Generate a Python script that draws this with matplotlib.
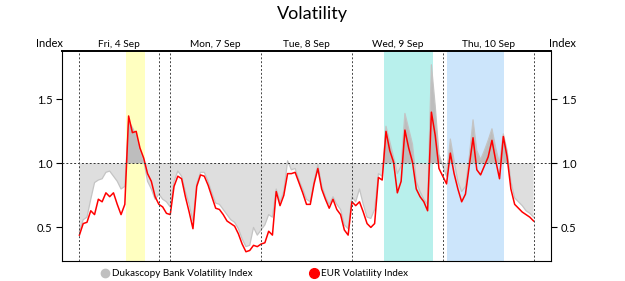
import numpy as np
import matplotlib.pyplot as plt
from matplotlib.lines import Line2D

# horas desde vie 00:00 (fin de semana recortado: vie 21:00 -> dom 21:00)
hours = np.arange(121)

dukascopy = [0.47, 0.56, 0.58, 0.72, 0.85, 0.87, 0.88, 0.93, 0.94, 0.90,
             0.86, 0.80, 0.82, 1.33, 1.28, 1.22, 1.10, 1.02, 0.86, 0.80,
             0.72, 0.76, 0.72, 0.70, 0.66, 0.86, 0.94, 0.90, 0.78, 0.68,
             0.55, 0.84, 0.93, 0.93, 0.86, 0.77, 0.69, 0.68, 0.64, 0.60,
             0.56, 0.54, 0.49, 0.41, 0.35, 0.36, 0.50, 0.44, 0.48, 0.52,
             0.60, 0.58, 0.80, 0.70, 0.78, 1.02, 0.95, 0.96, 0.87, 0.80,
             0.72, 0.70, 0.86, 0.99, 0.83, 0.74, 0.68, 0.74, 0.68, 0.64,
             0.52, 0.49, 0.74, 0.70, 0.80, 0.68, 0.58, 0.57, 0.64, 0.92,
             0.90, 1.29, 1.17, 1.05, 0.92, 0.98, 1.39, 1.27, 1.15, 0.86,
             0.78, 0.72, 0.68, 1.77, 1.45, 1.07, 0.98, 0.90, 1.19, 1.02,
             0.86, 0.78, 0.82, 1.05, 1.34, 1.10, 1.03, 1.10, 1.18, 1.27,
             1.12, 1.00, 1.23, 1.10, 0.86, 0.73, 0.70, 0.67, 0.63, 0.61,
             0.58]

eur = [0.44, 0.53, 0.54, 0.63, 0.60, 0.72, 0.70, 0.77, 0.74, 0.77,
       0.68, 0.60, 0.68, 1.37, 1.24, 1.25, 1.12, 1.04, 0.92, 0.86,
       0.74, 0.68, 0.66, 0.61, 0.60, 0.82, 0.90, 0.88, 0.74, 0.62,
       0.49, 0.82, 0.91, 0.90, 0.83, 0.74, 0.65, 0.64, 0.60, 0.55,
       0.53, 0.51, 0.45, 0.37, 0.31, 0.32, 0.36, 0.35, 0.37, 0.38,
       0.47, 0.44, 0.78, 0.67, 0.75, 0.92, 0.92, 0.93, 0.85, 0.77,
       0.68, 0.68, 0.84, 0.96, 0.80, 0.72, 0.65, 0.72, 0.64, 0.60,
       0.48, 0.44, 0.70, 0.67, 0.70, 0.62, 0.53, 0.50, 0.53, 0.89,
       0.87, 1.25, 1.10, 1.01, 0.77, 0.86, 1.26, 1.12, 1.01, 0.80,
       0.74, 0.70, 0.63, 1.40, 1.22, 0.96, 0.90, 0.84, 1.08, 0.92,
       0.80, 0.70, 0.76, 0.98, 1.20, 0.95, 0.91, 0.98, 1.05, 1.18,
       1.02, 0.88, 1.21, 1.05, 0.80, 0.68, 0.65, 0.62, 0.60, 0.58,
       0.55]

day_labels = ['Fri, 4 Sep', 'Mon, 7 Sep', 'Tue, 8 Sep', 'Wed, 9 Sep', 'Thu, 10 Sep']
day_bounds = [(0, 21), (24, 48), (48, 72), (72, 96), (96, 120)]
separators = [0, 21, 24, 48, 72, 96, 120]
sessions = [(12.2, 17.4, '#ffffc0'), (80.4, 93.5, '#b8f0ec'), (97.0, 112.3, '#cce5fb')]

plt.rcParams['font.family'] = ['Lato', 'DejaVu Sans']

fig = plt.figure(figsize=(6.25, 2.81), dpi=100)
ax = fig.add_axes([0.0992, 0.0722, 0.7824, 0.7452])

for a, b, c in sessions:
    ax.axvspan(a, b, color=c, lw=0, zorder=0)

duk = np.array(dukascopy)
ax.fill_between(hours, duk, 1.0, where=duk <= 1.0, interpolate=True,
                color='#dedede', lw=0, zorder=1)
ax.fill_between(hours, duk, 1.0, where=duk >= 1.0, interpolate=True,
                color='#bdbdbd', lw=0, zorder=1)
ax.plot(hours, duk, color='#c4c4c4', lw=0.9, zorder=2)
ax.plot(hours, eur, color='#ff0000', lw=1.1, zorder=3)

ax.axhline(1.0, color='#333333', lw=0.7, ls=(0, (2, 2)), zorder=4)
for s in separators:
    ax.axvline(s, color='#444444', lw=0.7, ls=(0, (2, 2)), zorder=4)

ax.set_xlim(-4.6, 124.6)
ax.set_ylim(0.24, 1.875)
ax.set_xticks([])
ax.set_yticks([0.5, 1.0, 1.5])
ax.set_yticklabels(['0.5', '1.0', '1.5'])
ax.tick_params(axis='y', which='both', direction='out', length=4, width=0.8,
               labelsize=8, left=True, right=True, labelleft=True, labelright=True, pad=3)
for sp in ax.spines.values():
    sp.set_linewidth(0.8)
ax.spines['top'].set_linewidth(1.4)

for (a, b), lab in zip(day_bounds, day_labels):
    ax.text((a + b) / 2, 1.012, lab, transform=ax.get_xaxis_transform(),
            ha='center', va='bottom', fontsize=7.3)
ax.text(0.002, 1.012, 'Index', transform=ax.transAxes, ha='right', va='bottom', fontsize=8)
ax.text(0.996, 1.012, 'Index', transform=ax.transAxes, ha='left', va='bottom', fontsize=8)

fig.text(0.5, 1 - 14 / 281, 'Volatility', ha='center', va='center', fontsize=13)

handles = [Line2D([], [], marker='o', ls='', color='#c0c0c0', markersize=6),
           Line2D([], [], marker='o', ls='', color='#ff0000', markersize=7)]
fig.legend(handles, ['Dukascopy Bank Volatility Index', 'EUR Volatility Index'],
           loc='center left', bbox_to_anchor=(0.1626, 1 - 273.7 / 281), ncol=2, frameon=False,
           fontsize=7.1, handlelength=0.7, handletextpad=0.35, columnspacing=5.9,
           borderpad=0, borderaxespad=0)

fig.savefig('out.png', dpi=100)
